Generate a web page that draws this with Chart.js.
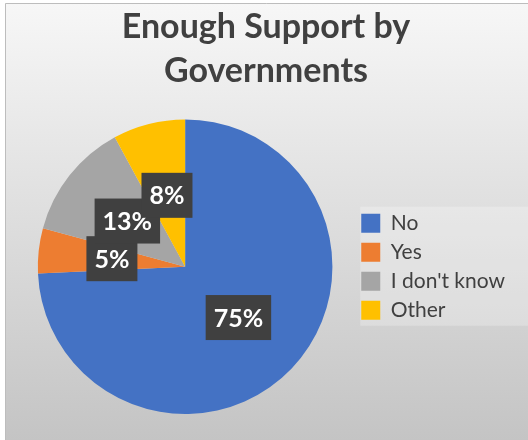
<!DOCTYPE html>
<html>
<head>
<meta charset="utf-8">
<title>Enough Support by Governments</title>
<script src="https://cdn.jsdelivr.net/npm/chart.js@4.4.0/dist/chart.umd.min.js"></script>
<style>
  html, body { margin: 0; padding: 0; background: #fff; }
  #wrap { width: 528px; height: 440px; overflow: hidden; }
</style>
</head>
<body>
<div id="wrap"><canvas id="pie-chart" width="528" height="440"></canvas></div>
<script>
// data
const categories = ["No", "Yes", "I don't know", "Other"];
const shares = [75, 5, 13, 8];
const sliceColors = ["#4472C4", "#ED7D31", "#A5A5A5", "#FFC000"];
const titleLines = ["Enough Support by", "Governments"];

// gray gradient panel + lighter box behind the legend
const chartBg = {
  id: "chartBg",
  beforeDraw(chart) {
    const c = chart.ctx;
    const w = chart.width, h = chart.height;
    c.save();
    const g = c.createLinearGradient(0, 3, 0, h);
    g.addColorStop(0, "#f7f7f7");
    g.addColorStop(1, "#c4c4c4");
    c.fillStyle = g;
    c.fillRect(5, 3, w - 5, h - 3);
    c.strokeStyle = "#bdbdbd";
    c.lineWidth = 1;
    c.beginPath();
    c.moveTo(5.5, h);
    c.lineTo(5.5, 3.5);
    c.lineTo(w, 3.5);
    c.stroke();

    const boxes = chart.legend && chart.legend.legendHitBoxes;
    if (boxes && boxes.length) {
      const first = boxes[0], last = boxes[boxes.length - 1];
      c.fillStyle = "rgba(255,255,255,0.25)";
      c.fillRect(first.left - 1, first.top - 6, w - first.left + 1,
        last.top + last.height - first.top + 11);
    }
    c.restore();
  }
};

// dark boxed percentage labels
const pctLabels = {
  id: "pctLabels",
  afterDatasetsDraw(chart) {
    const c = chart.ctx;
    const meta = chart.getDatasetMeta(0);
    c.save();
    c.font = "bold 25px Lato";
    c.textAlign = "center";
    c.textBaseline = "middle";
    meta.data.forEach((arc, i) => {
      const p = arc.tooltipPosition();
      const txt = shares[i] + "%";
      const tw = c.measureText(txt).width;
      const bw = tw + 16, bh = 45;
      c.fillStyle = "#404040";
      c.fillRect(p.x - bw / 2, p.y - bh / 2, bw, bh);
      c.fillStyle = "#ffffff";
      c.fillText(txt, p.x, p.y + 1);
    });
    c.restore();
  }
};

const ctx = document.getElementById("pie-chart").getContext("2d");
new Chart(ctx, {
  type: "pie",
  data: {
    labels: categories,
    datasets: [
      {
        data: shares,
        backgroundColor: sliceColors,
        borderWidth: 0,
      },
    ],
  },
  options: {
    responsive: false,
    animation: false,
    layout: { padding: { left: 17, right: 13, top: 1, bottom: 26 } },
    plugins: {
      title: {
        display: true,
        text: titleLines,
        color: "#404040",
        font: { family: "Lato", size: 34, weight: "bold", lineHeight: 1.3 },
        padding: { top: 4, bottom: 26 },
      },
      legend: {
        position: "right",
        fullSize: false,
        labels: {
          boxWidth: 19,
          boxHeight: 19,
          padding: 8,
          color: "#404040",
          font: { family: "Lato", size: 21 },
        },
      },
      tooltip: { enabled: false },
    },
  },
  plugins: [chartBg, pctLabels],
});
</script>
</body>
</html>
